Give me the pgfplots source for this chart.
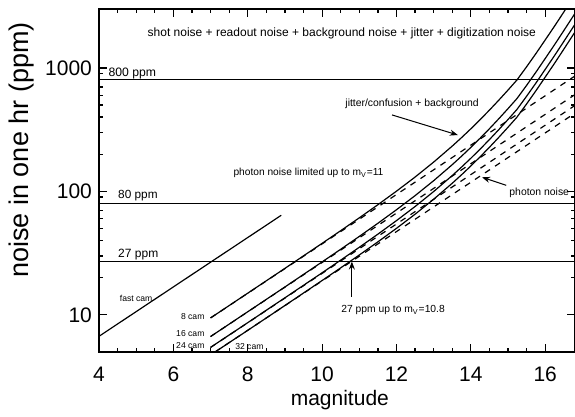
\documentclass[border=0pt]{standalone}
\usepackage{fontspec}
\setmainfont{Liberation Sans}
\usepackage{pgfplots}
\pgfplotsset{compat=1.18}
\usetikzlibrary{arrows.meta}

\newcommand\fs[1]{\fontsize{#1}{#1}\selectfont}
\newcommand\cam{\fontsize{4.3}{5}\selectfont}

\begin{document}
\begin{tikzpicture}[trim axis right]
\begin{axis}[
    width=238pt, height=171.5pt, scale only axis,
    xmin=4, xmax=16.8, ymin=5, ymax=3000,
    ymode=log,
    xtick={4,6,...,16}, minor x tick num=3,
    ytick={10,100,1000}, yticklabels={10,100,1000},
    major tick length=4pt, minor tick length=2pt,
    tick style={black, line width=0.6pt},
    axis line style={line width=0.7pt},
    ticklabel style={font=\fontsize{10.5}{12}\selectfont},
    xticklabel style={yshift=-4pt},
    /pgf/number format/assume math mode=true,
    xlabel={magnitude}, ylabel={noise in one hr (ppm)},
    xlabel style={font=\fontsize{10.5}{12}\selectfont,
        at={(axis description cs:0.506,-0.14)}, anchor=center},
    ylabel style={font=\fontsize{13.5}{15}\selectfont,
        at={(axis description cs:-0.162,0.589)}, anchor=center},
    clip=false,
    cycle list={{black, line width=0.6pt, mark=none}},
]
% reference levels
\addplot[black, line width=0.5pt] coordinates {(4,800) (16.8,800)};
\addplot[black, line width=0.5pt] coordinates {(4,80) (16.8,80)};
\addplot[black, line width=0.5pt] coordinates {(4,27) (16.8,27)};

% fast cam
\addplot[black, line width=0.6pt] coordinates {(4,6.7) (8.9,64)};

% photon noise only (dashed)
\addplot[black, line width=0.6pt, dash pattern=on 3pt off 3pt] coordinates {(7,9.43) (16.8,860.2)};
\addplot[black, line width=0.6pt, dash pattern=on 3pt off 3pt] coordinates {(7,6.67) (16.8,608.3)};
\addplot[black, line width=0.6pt, dash pattern=on 3pt off 3pt] coordinates {(7,5.44) (16.8,496.6)};
\addplot[black, line width=0.6pt, dash pattern=on 3pt off 3pt] coordinates {(7.12,5.0) (16.8,430.1)};

% total noise (solid)
\addplot[black, line width=0.6pt] coordinates {
    (7,9.44) (8,14.97) (9,23.79) (10,37.94) (10.5,48.04) (11,61.05)
    (11.5,77.99) (12,100.4) (12.5,130.6) (13,172.7) (13.5,232.8)
    (13.75,272.6) (14,321.3) (14.25,381.3) (14.5,455.3) (14.75,547.4)
    (15,662.1) (15.24,798.9) (15.5,1022.4) (15.75,1307) (16,1686.5)
    (16.25,2179) (16.5,2838) (16.55,3000)
};
\addplot[black, line width=0.6pt] coordinates {
    (7,6.67) (8,10.59) (9,16.82) (10,26.83) (10.5,33.97) (11,43.17)
    (11.5,55.15) (12,70.99) (12.5,92.35) (13,122.1) (13.5,164.6)
    (13.75,192.8) (14,227.2) (14.25,269.6) (14.5,321.9) (14.75,387.1)
    (15,468.2) (15.24,564.9) (15.5,722.9) (15.75,924.2) (16,1192.5)
    (16.25,1540.8) (16.5,2006.8) (16.8,2764.1)
};
\addplot[black, line width=0.6pt] coordinates {
    (7,5.45) (8,8.64) (9,13.74) (10,21.90) (10.5,27.74) (11,35.25)
    (11.5,45.03) (12,57.97) (12.5,75.40) (13,99.71) (13.5,134.4)
    (13.75,157.4) (14,185.5) (14.25,220.1) (14.5,262.9) (14.75,316.0)
    (15,382.3) (15.24,461.2) (15.5,590.3) (15.75,754.6) (16,973.7)
    (16.25,1258.0) (16.5,1638.5) (16.8,2256.9)
};
\addplot[black, line width=0.6pt] coordinates {
    (7.12,5.0) (8,7.49) (9,11.90) (10,18.97) (10.5,24.02) (11,30.53)
    (11.5,39.0) (12,50.2) (12.5,65.3) (13,86.35) (13.5,116.4)
    (13.75,136.3) (14,160.65) (14.25,190.65) (14.5,227.65) (14.75,273.7)
    (15,331.05) (15.24,399.45) (15.5,511.2) (15.75,653.5) (16,843.25)
    (16.25,1089.5) (16.5,1419) (16.8,1954.5)
};

% labels
\node[anchor=west, font=\fs{6.1}, inner sep=0.5pt] at (axis cs:4.22,893) {800 ppm};
\node[anchor=west, font=\fs{5.9}, inner sep=0.5pt] at (axis cs:4.48,91.9) {80 ppm};
\node[anchor=west, font=\fs{6}, inner sep=0.5pt] at (axis cs:4.48,30.6) {27 ppm};
\node[font=\fs{6}] at (axis cs:10.53,1918)
    {shot noise + readout noise + background noise + jitter + digitization noise};
\node[anchor=west, font=\fs{5.1}, inner sep=0.5pt] at (axis cs:7.58,141)
    {photon noise limited up to m\textsubscript{V}=11};
\node[anchor=west, font=\fs{5.2}, inner sep=0.5pt] at (axis cs:10.59,511) {jitter/confusion + background};
\node[anchor=west, font=\fs{5.2}, inner sep=0.5pt] at (axis cs:15.0,97) {photon noise +};
\node[anchor=west, font=\fs{5.15}, inner sep=0.5pt] at (axis cs:10.48,10.96) {27 ppm up to m\textsubscript{V}=10.8};

\node[anchor=east, font=\cam, inner sep=1pt] at (axis cs:5.5,13.7) {fast cam};
\node[anchor=east, font=\cam, inner sep=1pt] at (axis cs:6.9,9.63) {8 cam};
\node[anchor=east, font=\cam, inner sep=1pt] at (axis cs:6.9,7.02) {16 cam};
\node[anchor=east, font=\cam, inner sep=1pt] at (axis cs:6.9,5.61) {24 cam};
\node[anchor=west, font=\cam, inner sep=1pt] at (axis cs:7.6,5.5) {32 cam};

% arrows
\draw[-{Stealth[length=4pt,width=3pt]}, line width=0.5pt]
    (axis cs:11.88,416) -- (axis cs:13.65,286);
\draw[-{Stealth[length=4pt,width=3pt]}, line width=0.5pt]
    (axis cs:14.95,112) -- (axis cs:14.3,130);
\draw[-{Stealth[length=4pt,width=3pt]}, line width=0.5pt]
    (axis cs:10.8,14) -- (axis cs:10.8,27);

% page margins
\path (rel axis cs:0,0) ++(-49.5pt,-30.5pt);
\path (rel axis cs:0,1) ++(0pt,4.5pt);
\end{axis}
\end{tikzpicture}
\end{document}
